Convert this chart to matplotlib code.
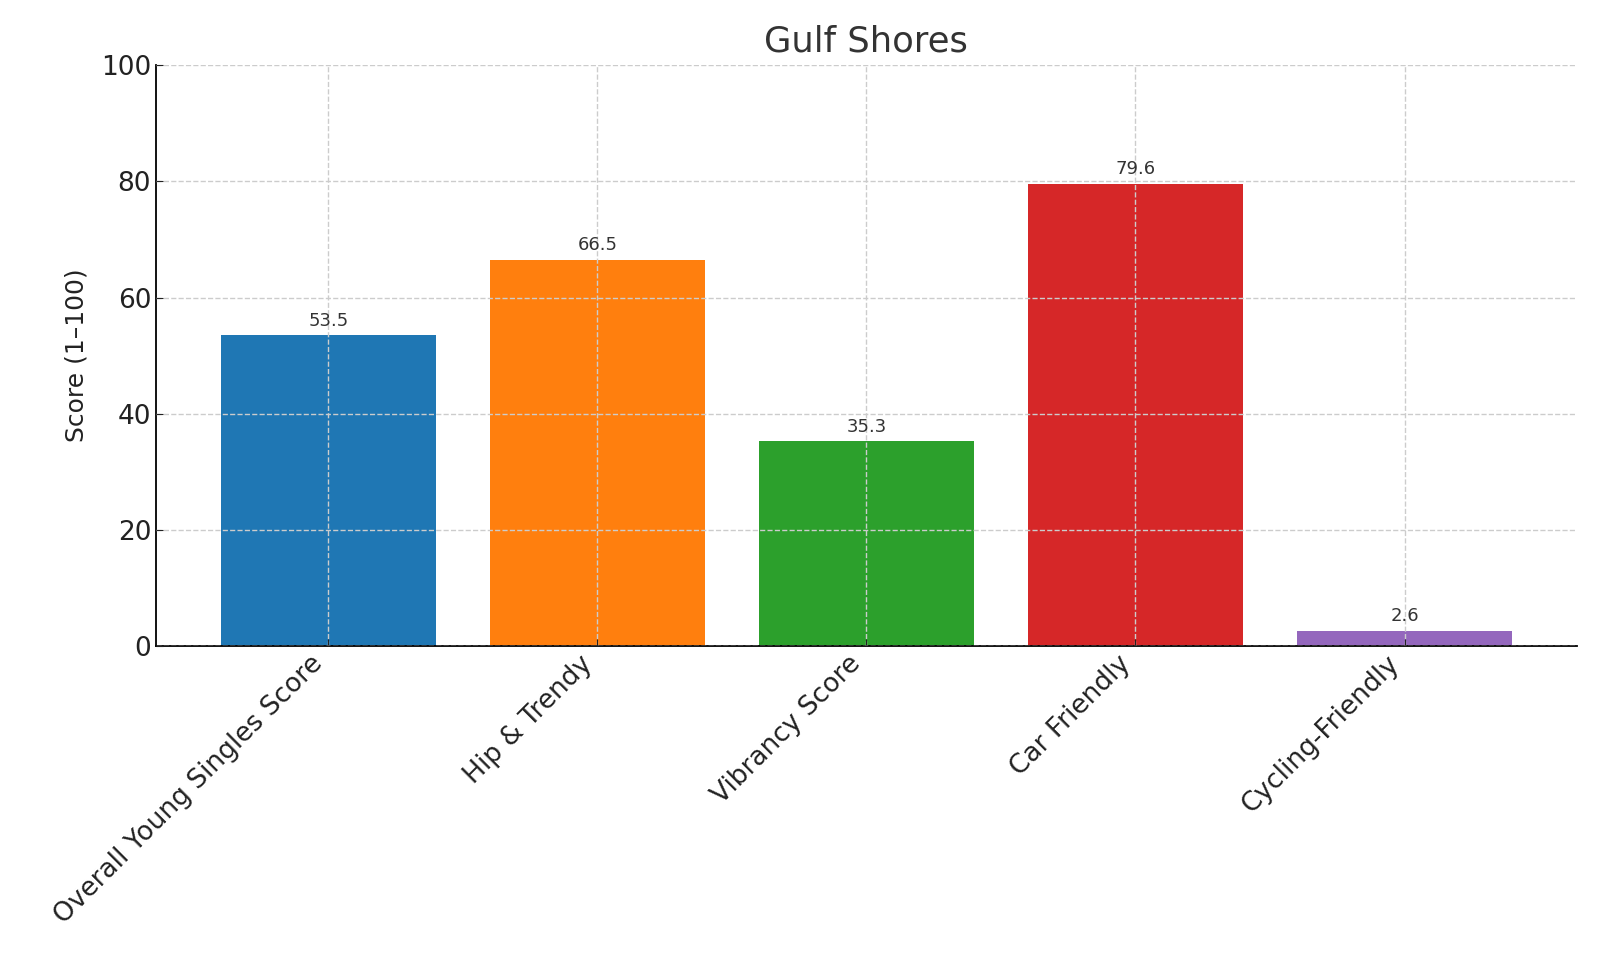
import matplotlib.pyplot as plt

# -------------------------------
# Data
# -------------------------------
categories = ["Overall Young Singles Score", "Hip & Trendy", "Vibrancy Score",
              "Car Friendly", "Cycling-Friendly"]
scores = [53.5, 66.5, 35.3, 79.6, 2.6]
colors = ["#1f77b4", "#ff7f0e", "#2ca02c", "#d62728", "#9467bd"]

# -------------------------------
# Plot
# -------------------------------
fig = plt.figure(figsize=(16, 9.6), dpi=100)
ax = fig.add_axes([0.0975, 0.327, 0.888, 0.605])

bars = ax.bar(categories, scores, color=colors, width=0.8)
for bar, val in zip(bars, scores):
    ax.annotate(f"{val:.1f}", (bar.get_x() + bar.get_width() / 2, val),
                xytext=(0, 4), textcoords="offset points",
                ha="center", va="bottom", fontsize=13, color="#333333")

ax.set_ylim(0, 100)
ax.set_title("Gulf Shores", fontsize=25.5, color="#333333", pad=10)
ax.set_ylabel("Score (1–100)", fontsize=18, color="#222222", labelpad=9)
ax.tick_params(axis="both", labelsize=19, colors="#222222", length=5,
               direction="in")
plt.setp(ax.get_xticklabels(), rotation=45, ha="right")

ax.grid(True, linestyle="--", color="#cccccc", linewidth=1)
ax.set_axisbelow(False)
for s in ["top", "right"]:
    ax.spines[s].set_visible(False)
ax.spines["left"].set_linewidth(1.3)
ax.spines["bottom"].set_linewidth(1.3)

plt.savefig("out.png", dpi=100)
